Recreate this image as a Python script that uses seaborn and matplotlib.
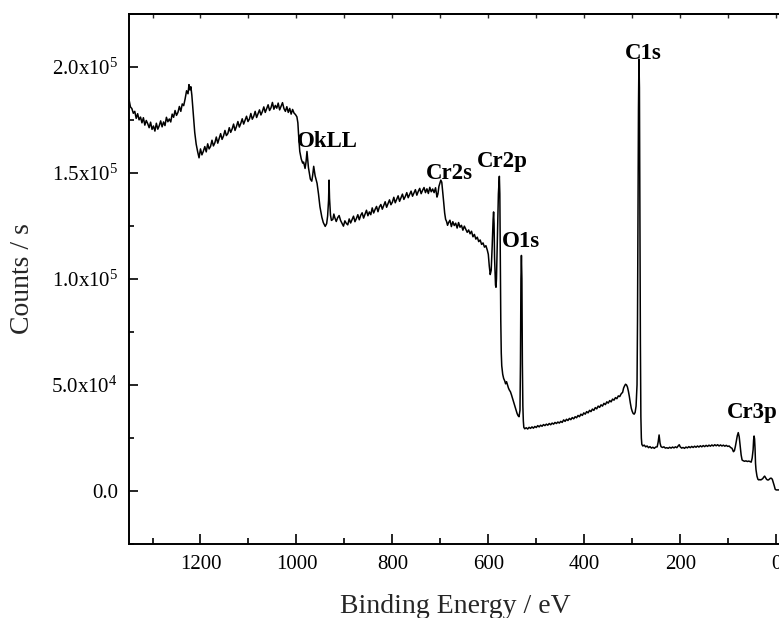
import numpy as np
import matplotlib
matplotlib.use("Agg")
import matplotlib.pyplot as plt
from matplotlib.ticker import MultipleLocator, FuncFormatter
import seaborn as sns

# XPS survey spectrum: binding energy (eV) and intensity (10^3 counts / s)
binding_energy = [
    1349, 1346, 1343, 1340, 1337, 1334, 1331, 1328, 1325, 1322, 1319, 1316, 1313, 1310,
    1307, 1304, 1301, 1298, 1295, 1292, 1289, 1286, 1283, 1280, 1277, 1274, 1271, 1268,
    1265, 1262, 1259, 1256, 1253, 1250, 1247, 1244, 1241, 1238, 1235, 1232, 1229, 1226,
    1224, 1222, 1220, 1218, 1215, 1212, 1209, 1206, 1203, 1200, 1197, 1194, 1191, 1188,
    1185, 1182, 1179, 1176, 1173, 1170, 1167, 1164, 1161, 1158, 1155, 1152, 1149, 1146,
    1143, 1140, 1137, 1134, 1131, 1128, 1125, 1122, 1119, 1116, 1113, 1110, 1107, 1104,
    1101, 1098, 1095, 1092, 1089, 1086, 1083, 1080, 1077, 1074, 1071, 1068, 1065, 1062,
    1059, 1056, 1053, 1050, 1047, 1044, 1041, 1038, 1035, 1032, 1029, 1026, 1023, 1020,
    1017, 1014, 1011, 1008, 1005, 1002, 999, 997, 995, 993, 990, 987, 985, 982, 980, 978,
    975, 971, 968, 966, 964, 961, 957, 954, 951, 947, 944, 940, 937, 935, 933, 932, 931,
    929, 927, 924, 922, 920, 917, 914, 911, 908, 905, 902, 899, 896, 893, 890, 887, 884,
    881, 878, 875, 872, 869, 866, 863, 860, 857, 854, 851, 848, 845, 842, 839, 836, 833,
    830, 827, 824, 821, 818, 815, 812, 809, 806, 803, 800, 797, 794, 791, 788, 785, 782,
    779, 776, 773, 770, 767, 764, 761, 758, 755, 752, 749, 746, 743, 740, 737, 734, 731,
    728, 725, 722, 719, 716, 713, 710, 707, 705, 703, 701, 699, 697, 695, 693, 691, 689,
    687, 685, 683, 680, 677, 674, 671, 668, 665, 662, 659, 656, 653, 650, 647, 644, 641,
    638, 635, 632, 629, 626, 623, 620, 617, 614, 611, 608, 605, 602, 600, 598, 596, 594,
    592, 590, 589, 588, 587, 585, 584, 583, 581, 579, 577, 576, 575, 574, 573, 572, 570,
    568, 566, 564, 562, 560, 558, 556, 554, 552, 550, 548, 546, 544, 542, 540, 538, 536,
    534, 533, 532, 531, 530, 529, 528, 527, 526, 524, 521, 518, 515, 512, 509, 506, 503,
    500, 497, 494, 491, 488, 485, 482, 479, 476, 473, 470, 467, 464, 461, 458, 455, 452,
    449, 446, 443, 440, 437, 434, 431, 428, 425, 422, 419, 416, 413, 410, 407, 404, 401,
    398, 395, 392, 389, 386, 383, 380, 377, 374, 371, 368, 365, 362, 359, 356, 353, 350,
    347, 344, 341, 338, 335, 332, 329, 326, 323, 320, 318, 316, 314, 312, 310, 308, 306,
    304, 302, 300, 298, 296, 294, 292, 290, 289, 288, 287, 286, 285, 284, 283, 282, 281,
    280, 278, 275, 272, 269, 266, 263, 260, 257, 254, 251, 248, 246, 244, 242, 240, 237,
    234, 231, 228, 225, 222, 219, 216, 213, 210, 207, 204, 202, 200, 197, 194, 191, 188,
    185, 182, 179, 176, 173, 170, 167, 164, 161, 158, 155, 152, 149, 146, 143, 140, 137,
    134, 131, 128, 125, 122, 119, 116, 113, 110, 107, 104, 101, 98, 95, 92, 89, 87, 85,
    83, 81, 79, 77, 75, 73, 71, 69, 66, 63, 60, 57, 54, 52, 50, 48, 47, 46, 45, 44, 43,
    42, 41, 40, 38, 36, 34, 32, 30, 28, 26, 24, 22, 20, 18, 16, 14, 12, 10, 8, 6, 4, 2,
    0, -3, -6,
]

intensity_k = [
    184.5, 181.0, 180.2, 178.0, 178.9, 175.6, 177.8, 174.9, 176.2, 173.5, 175.9, 172.4, 174.6, 173.1,
    171.2, 173.8, 170.4, 172.0, 169.6, 173.3, 170.5, 172.1, 174.4, 171.6, 173.9, 172.2, 176.1, 174.0,
    175.3, 173.9, 177.6, 176.1, 179.3, 177.0, 178.4, 181.2, 178.9, 182.4, 181.6, 184.8, 188.6, 187.2,
    191.5, 189.0, 190.5, 186.5, 178.0, 169.0, 163.5, 160.0, 157.0, 161.2, 158.4, 160.1, 162.3, 159.8,
    163.6, 161.2, 162.4, 165.3, 162.6, 164.1, 166.8, 163.9, 166.2, 168.4, 165.7, 167.3, 169.9, 167.5,
    168.4, 171.2, 169.0, 170.6, 172.9, 169.9, 171.8, 174.1, 171.5, 173.2, 175.4, 172.9, 174.8, 176.6,
    174.1, 175.3, 177.9, 175.2, 176.6, 178.9, 176.0, 177.8, 179.6, 177.2, 178.8, 181.0, 178.4, 180.2,
    182.0, 179.3, 180.6, 183.1, 179.9, 181.7, 180.4, 182.8, 179.6, 181.3, 183.0, 180.2, 178.9, 181.1,
    178.4, 180.3, 177.6, 179.8, 178.1, 177.4, 176.3, 173.5, 166.0, 160.0, 156.5, 154.5, 155.0, 152.0, 155.0, 160.0,
    152.5, 147.0, 146.0, 149.0, 153.0, 148.5, 145.0, 140.0, 134.0, 129.0, 126.5, 124.7, 126.0, 129.5, 137.0, 146.5, 138.0,
    130.0, 127.5, 128.0, 130.5, 128.8, 127.0, 128.8, 129.8, 127.5, 126.2, 124.8, 127.3, 126.1, 125.4, 128.2, 126.3, 127.9,
    129.5, 126.9, 128.4, 130.2, 127.8, 129.9, 131.1, 128.6, 130.4, 132.3, 129.7, 131.5, 130.2, 133.4, 131.0, 132.7, 134.1,
    131.6, 133.9, 135.0, 132.8, 134.6, 136.3, 133.7, 135.4, 137.2, 134.9, 136.1, 138.4, 135.8, 137.4, 139.1, 136.5, 138.2,
    139.9, 137.4, 138.8, 140.6, 138.2, 139.7, 141.3, 138.9, 140.5, 142.0, 139.4, 141.2, 142.6, 140.1, 141.7, 143.0, 140.6,
    142.4, 140.2, 143.1, 141.0, 142.3, 140.6, 142.9, 138.5, 140.0, 143.5, 145.0, 146.5, 145.5, 141.0, 136.0, 131.0, 128.0,
    127.0, 125.2, 126.4, 127.6, 124.6, 126.9, 125.1, 126.2, 123.9, 126.5, 124.3, 125.2, 122.9, 124.8, 123.4, 121.9, 123.0,
    121.2, 122.4, 119.8, 120.9, 118.7, 119.6, 117.5, 118.3, 116.2, 116.9, 114.9, 115.6, 113.4, 111.5, 106.0, 102.0, 104.0,
    115.0, 128.0, 131.5, 126.0, 110.0, 97.0, 96.0, 100.0, 120.0, 140.0, 148.3, 140.0, 110.0, 80.0, 65.0, 59.0, 55.0,
    53.0, 52.0, 50.5, 51.5, 50.0, 48.5, 47.5, 46.8, 45.5, 44.0, 42.5, 41.0, 39.5, 38.0, 36.5, 35.5, 35.0,
    38.0, 60.0, 100.0, 111.0, 100.0, 60.0, 40.0, 33.0, 30.0, 29.3, 29.8, 29.2, 30.0, 29.5, 30.2, 29.6, 30.4,
    29.9, 30.8, 30.2, 31.0, 30.5, 31.3, 30.8, 31.5, 31.0, 31.8, 31.2, 32.0, 31.5, 32.3, 31.8, 32.5, 32.0,
    32.8, 32.3, 33.5, 32.8, 33.8, 33.2, 34.2, 33.6, 34.6, 34.0, 35.0, 34.5, 35.6, 35.0, 36.2, 35.6, 36.8,
    36.2, 37.4, 36.8, 38.0, 37.4, 38.6, 38.0, 39.3, 38.7, 40.0, 39.4, 40.6, 40.0, 41.3, 40.7, 42.0, 41.4,
    42.6, 42.0, 43.3, 42.8, 44.0, 43.5, 44.8, 44.5, 45.8, 46.5, 48.5, 49.5, 50.3, 50.0, 49.0, 47.0, 44.5,
    41.5, 39.0, 37.5, 36.5, 36.2, 37.0, 40.0, 50.0, 80.0, 130.0, 180.0, 203.5, 190.0, 130.0, 70.0, 35.0, 25.0,
    22.0, 21.2, 21.6, 20.8, 21.2, 20.4, 20.9, 20.2, 20.6, 20.1, 20.7, 20.8, 23.0, 26.4, 22.5, 20.9, 20.5,
    20.8, 20.2, 20.4, 20.1, 20.6, 20.2, 20.7, 20.3, 20.8, 20.4, 21.3, 21.8, 20.8, 20.2, 20.5, 20.1, 20.7,
    20.3, 20.9, 20.4, 21.0, 20.5, 21.1, 20.6, 21.2, 20.7, 21.3, 20.8, 21.4, 20.9, 21.5, 21.0, 21.6, 21.1,
    21.7, 21.2, 21.8, 21.3, 21.8, 21.2, 21.7, 21.2, 21.6, 21.1, 21.5, 21.0, 21.2, 20.5, 20.1, 18.5, 19.0, 21.0,
    23.5, 26.0, 27.5, 25.5, 21.0, 17.0, 14.6, 14.3, 14.0, 14.2, 13.9, 14.1, 13.8, 13.6, 15.5, 19.5, 24.0, 25.9, 24.5, 20.0, 13.0,
    10.0, 8.5, 7.0, 5.5, 5.2, 5.4, 5.2, 5.5, 5.8, 6.5, 7.0, 6.2, 5.5, 5.2, 5.2, 5.6, 6.0, 6.0, 5.5, 4.0, 2.5, 0.8,
    0.5, 0.5, 0.5,
]

peak_names = ["OkLL", "Cr2s", "Cr2p", "O1s", "C1s", "Cr3p"]
peak_label_energy = [935, 681, 570, 532, 278, 50]
peak_label_height_k = [162, 147, 152.5, 114.8, 203.8, 34.6]

x_ticks = [0, 200, 400, 600, 800, 1000, 1200]

sns.set_style("ticks")
plt.rcParams["font.family"] = ["Liberation Serif", "DejaVu Serif"]
plt.rcParams["mathtext.default"] = "regular"

fig = plt.figure(figsize=(7.79, 6.18), dpi=100)
ax = fig.add_axes([0.1656, 0.1197, 0.8369, 0.8584])

energy = np.array(binding_energy, dtype=float)
intensity = np.array(intensity_k) * 1000.0

sns.lineplot(x=energy, y=intensity, sort=False, estimator=None,
             color="black", linewidth=1.1, ax=ax)

ax.set_xlim(1349, -10)
ax.set_ylim(-25000, 225000)

ax.set_xticks(x_ticks)
ax.xaxis.set_minor_locator(MultipleLocator(100))
ax.yaxis.set_major_locator(MultipleLocator(50000))
ax.yaxis.set_minor_locator(MultipleLocator(25000))


def sci_label(v, pos):
    if abs(v) < 1e-9:
        return "0.0"
    exp = int(np.floor(np.log10(abs(v))))
    mant = v / 10 ** exp
    return r"$\mathregular{%.1fx10^{%d}}$" % (mant, exp)


ax.yaxis.set_major_formatter(FuncFormatter(sci_label))

ax.tick_params(axis="both", which="both", direction="in", width=1.2,
               labelsize=15, colors="black", pad=8)
ax.tick_params(axis="x", which="major", length=7.5)
ax.tick_params(axis="x", which="minor", length=4)
ax.tick_params(axis="y", which="major", length=6.5)
ax.tick_params(axis="y", which="minor", length=3.5)

for side in ["left", "bottom", "top"]:
    ax.spines[side].set_linewidth(1.4)
    ax.spines[side].set_color("black")
ax.spines["right"].set_visible(False)

top = ax.secondary_xaxis("top")
top.set_xticks(np.arange(0, 1400, 100))
top.tick_params(direction="in", length=3, width=1.0, labeltop=False)
top.spines["top"].set_linewidth(1.4)

ax.set_xlabel("Binding Energy / eV", fontsize=20, labelpad=14)
ax.set_ylabel("Counts / s", fontsize=20, labelpad=12)

for name, ex, hy in zip(peak_names, peak_label_energy, peak_label_height_k):
    ax.text(ex, hy * 1000.0, name, ha="center", va="baseline",
            fontsize=16.5, fontweight="bold", color="black")

fig.savefig("out.png", dpi=100)
